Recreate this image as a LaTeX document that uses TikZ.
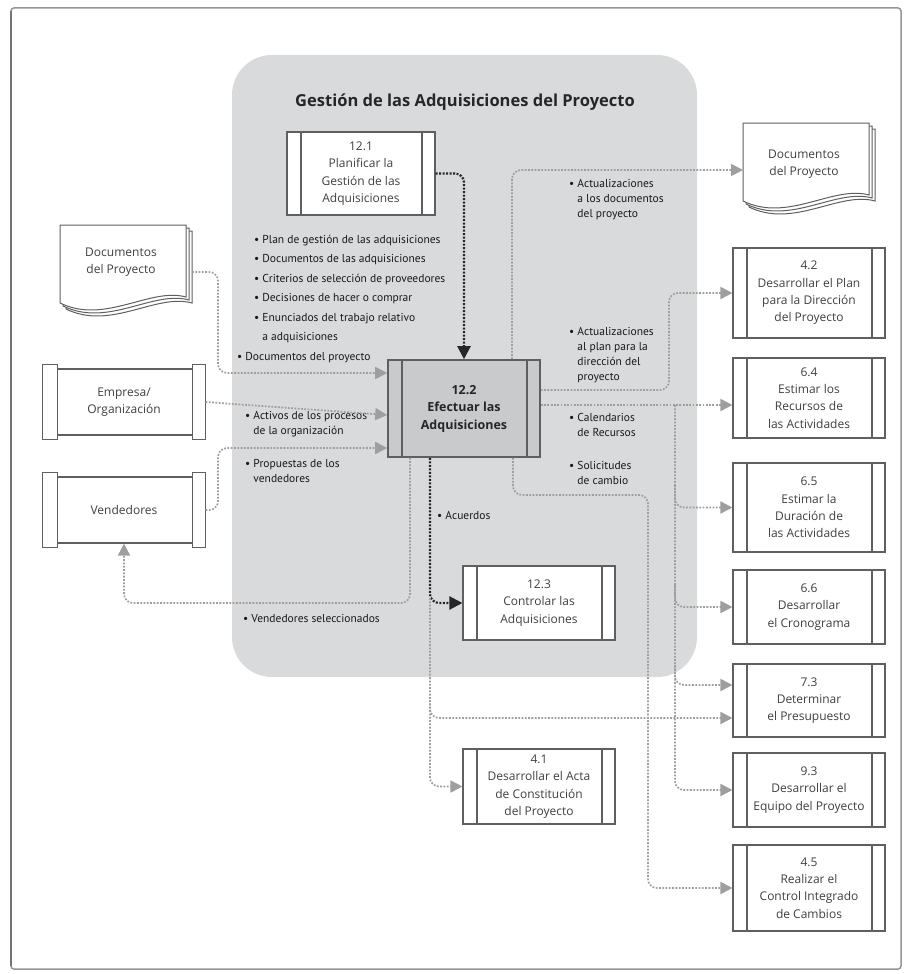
\documentclass[tikz,border=0pt]{standalone}
\usepackage{fontspec}
\setmainfont{PT Sans}
\newfontfamily\boxfam{Open Sans}
\usetikzlibrary{arrows.meta}

\definecolor{areagray}{RGB}{217,218,220}
\definecolor{keyfill}{RGB}{201,202,204}
\definecolor{boxgray}{RGB}{95,95,95}
\definecolor{congray}{RGB}{158,158,158}
\definecolor{framegray}{RGB}{150,150,150}

\newcommand\prfont{\boxfam\fontsize{12}{17.3}\selectfont}
\newcommand\lbfont{\fontsize{11.5}{15}\selectfont}
\newcommand\lbullet{\textbullet\ }
\newcommand\lindent{\hphantom{\textbullet\ }}

\tikzset{
  procbox/.style={draw=boxgray, line width=1.1pt, fill=white, inner sep=0pt,
    align=center, font=\prfont, text=black!75,
    path picture={\draw[boxgray, line width=1.1pt]
      ([xshift=14pt]path picture bounding box.north west) -- ([xshift=14pt]path picture bounding box.south west)
      ([xshift=-13pt]path picture bounding box.north east) -- ([xshift=-13pt]path picture bounding box.south east);}},
  scrollbox/.style={draw=boxgray, line width=1.1pt, fill=white, inner sep=0pt,
    align=center, font=\prfont, text=black!75, minimum width=162pt, minimum height=66pt},
  capbox/.style={draw=boxgray, line width=1.1pt, fill=white},
  lbl/.style={anchor=north west, inner sep=0pt, align=left, font=\lbfont, text=black!90},
  con/.style={draw=congray, line width=1.7pt, dash pattern=on 1.8pt off 1.5pt,
    rounded corners=9pt, -{Triangle[length=12pt,width=12pt,fill=congray]}},
  blk/.style={draw=black!85, line width=2.2pt, dash pattern=on 2pt off 1.5pt,
    rounded corners=9pt, -{Triangle[length=13pt,width=13pt]}},
  docpages/.pic={
    \foreach \pgo in {6,3,0}{
      \filldraw[fill=white, draw=boxgray, line width=1pt]
        (\pgo,\pgo) -- (126+\pgo,\pgo) -- (126+\pgo,72+\pgo)
        .. controls (90+\pgo,62+\pgo) and (45+\pgo,100+\pgo) .. (\pgo,78+\pgo) -- cycle;
    }
  }
}

\begin{document}
\begin{tikzpicture}[x=1pt,y=-1pt]
\useasboundingbox (0,0) rectangle (906,974);

% outer frame and the process group area
\draw[framegray, line width=1.5pt, rounded corners=3pt] (11,8) rectangle (901,969);
\draw[black!55, line width=2pt] (11,11) -- (11,966);
\fill[areagray, rounded corners=40pt] (232,55) rectangle (697,677);
\node[font=\boxfam\fontsize{16.5}{19}\selectfont\bfseries, text=black!85] (title) at (465,102)
  {Gestión de las Adquisiciones del Proyecto};

% project documents (left and right)
\pic at (60,225) {docpages};
\node[align=center, font=\prfont, text=black!75] (docL) at (121,262) {Documentos\\del Proyecto};
\coordinate (docLout) at (192,272);
\pic at (743,123) {docpages};
\node[align=center, font=\prfont, text=black!75] (docR) at (804,164) {Documentos\\del Proyecto};
\coordinate (docRin) at (743,170);

% enterprise and sellers
\node[scrollbox] (emp) at (124,402) {Empresa/\\Organización};
\draw[capbox] ([yshift=4pt]emp.north west) rectangle ([xshift=15pt,yshift=-4pt]emp.south west);
\draw[capbox] ([xshift=-13pt,yshift=4pt]emp.north east) rectangle ([yshift=-4pt]emp.south east);
\node[scrollbox] (ven) at (124,510) {Vendedores};
\draw[capbox] ([yshift=4pt]ven.north west) rectangle ([xshift=15pt,yshift=-4pt]ven.south west);
\draw[capbox] ([xshift=-13pt,yshift=4pt]ven.north east) rectangle ([yshift=-4pt]ven.south east);

% processes
\node[procbox, minimum width=148pt, minimum height=83pt] (p121) at (361,173.5)
  {12.1\\Planificar la\\Gestión de las\\Adquisiciones};
\node[procbox, fill=keyfill, line width=1.6pt, minimum width=152pt, minimum height=97pt,
  font=\boxfam\fontsize{12.5}{17.5}\selectfont\bfseries, text=black!85] (p122) at (464,408.5)
  {12.2\\Efectuar las\\Adquisiciones};
\node[procbox, minimum width=152pt, minimum height=74pt] (p123) at (539,603)
  {12.3\\Controlar las\\Adquisiciones};
\node[procbox, minimum width=152pt, minimum height=75pt] (p41) at (539,786.5)
  {4.1\\Desarrollar el Acta\\de Constitución\\del Proyecto};

\node[procbox, minimum width=152pt, minimum height=90pt] (p42) at (809,293)
  {4.2\\Desarrollar el Plan\\para la Dirección\\del Proyecto};
\node[procbox, minimum width=152pt, minimum height=80pt] (p64) at (809,398)
  {6.4\\Estimar los\\Recursos de\\las Actividades};
\node[procbox, minimum width=152pt, minimum height=89pt] (p65) at (809,507.5)
  {6.5\\Estimar la\\Duración de\\las Actividades};
\node[procbox, minimum width=152pt, minimum height=74pt] (p66) at (809,607)
  {6.6\\Desarrollar\\el Cronograma};
\node[procbox, minimum width=152pt, minimum height=73pt] (p73) at (809,700.5)
  {7.3\\Determinar\\el Presupuesto};
\node[procbox, minimum width=152pt, minimum height=74pt] (p93) at (809,790)
  {9.3\\Desarrollar el\\Equipo del Proyecto};
\node[procbox, minimum width=152pt, minimum height=86pt] (p45) at (809,888)
  {4.5\\Realizar el\\Control Integrado\\de Cambios};

% labels
\node[lbl, font=\fontsize{11.5}{19.5}\selectfont] (inlist) at (254,235)
  {\lbullet Plan de gestión de las adquisiciones\\
   \lbullet Documentos de las adquisiciones\\
   \lbullet Criterios de selección de proveedores\\
   \lbullet Decisiones de hacer o comprar\\
   \lbullet Enunciados del trabajo relativo\\
   \lindent a adquisiciones};
\node[lbl] (lDoc) at (237,352) {\lbullet Documentos del proyecto};
\node[lbl] (lAct) at (245,411) {\lbullet Activos de los procesos\\\lindent de la organización};
\node[lbl] (lProp) at (245,459) {\lbullet Propuestas de los\\\lindent vendedores};
\node[lbl] (lVsel) at (243,614) {\lbullet Vendedores seleccionados};
\node[lbl] (lAcu) at (437,511) {\lbullet Acuerdos};
\node[lbl] (lUpd) at (569,179) {\lbullet Actualizaciones\\\lindent a los documentos\\\lindent del proyecto};
\node[lbl] (lPlan) at (569,327) {\lbullet Actualizaciones\\\lindent al plan para la\\\lindent dirección del\\\lindent proyecto};
\node[lbl] (lCal) at (569,413) {\lbullet Calendarios\\\lindent de Recursos};
\node[lbl] (lSol) at (569,461) {\lbullet Solicitudes\\\lindent de cambio};

% inputs
\draw[blk] (p121.east) -| (p122.north);
\draw[con] (docLout) -- (218,272) -- (218,373) -- ([yshift=35.5pt]p122.west);
\draw[con] (emp.east) -- ([yshift=-6.5pt]p122.west);
\draw[con] (ven.east) -- (218,510) -- (218,448) -- ([yshift=-39.5pt]p122.west);

% outputs within the group
\draw[con] ([xshift=-54pt]p122.south) -- (410,603) -- (124,603) -- (ven.south);
\draw[blk] ([xshift=-34pt]p122.south) |- (p123.west);
\coordinate (acuJ) at (430,598);
\draw[con] (acuJ) |- (p41.west);
\draw[con] ([yshift=-102pt]acuJ) |- ([yshift=-17.5pt]p73.west);

% outputs to other processes
\draw[con] ([xshift=48pt]p122.north) -- (512,170) -- (docRin);
\draw[con] ([yshift=18.5pt]p122.east) -- (669,390) -- (669,293) -- (p42.west);
\coordinate (calJ) at (675,405);
\draw[con] ([yshift=3.5pt]p122.east) -- ([yshift=-7pt]p64.west);
\draw[con] (calJ) |- (p93.west);
\draw[con] ([yshift=-80pt]calJ) |- (p65.west);
\draw[con] ([yshift=-180pt]calJ) |- (p66.west);
\draw[con] ([yshift=-260pt]calJ) |- ([yshift=15.5pt]p73.west);
\draw[con] ([xshift=49pt]p122.south) -- (513,495) -- (648,495) -- (648,888) -- (p45.west);

\end{tikzpicture}
\end{document}
